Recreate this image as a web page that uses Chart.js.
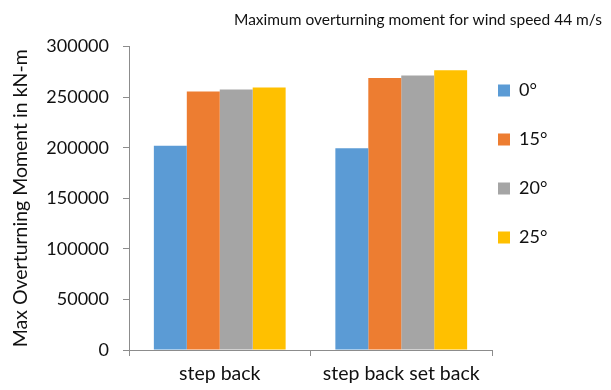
<!DOCTYPE html>
<html>
<head>
<meta charset="utf-8">
<script src="https://cdn.jsdelivr.net/npm/chart.js@4/dist/chart.umd.min.js"></script>
<style>
  html, body { margin: 0; padding: 0; background: #ffffff; }
  #wrap { width: 611px; height: 390px; }
</style>
</head>
<body>
<div id="wrap"><canvas id="c" width="611" height="390"></canvas></div>
<script>
// Building configurations on the x axis
const categories = ['step back', 'step back set back'];
// Wind angle series
const seriesNames = ['0°', '15°', '20°', '25°'];
const seriesColors = ['#5B9BD5', '#ED7D31', '#A5A5A5', '#FFC000'];
// Maximum overturning moment (kN-m) per configuration
const angle0 = [202000, 199500];
const angle15 = [255500, 269000];
const angle20 = [257500, 271500];
const angle25 = [259500, 276500];
// Value axis range
const yMin = 0;
const yMax = 300000;
const yStep = 50000;

const seriesValues = [angle0, angle15, angle20, angle25];
const FONT = 'Lato, "Open Sans", sans-serif';
const TEXT = '#111111';
const AXIS_GRAY = '#8c8c8c';

// Layout constants (canvas pixels)
const PAD = { left: 8, right: 9, top: 0, bottom: 0 };
const Y_AXIS_WIDTH = 121;     // from left padding to the value axis line
const X_AXIS_HEIGHT = 40;     // below the category axis line
const LEGEND_WIDTH = 110;     // reserved strip at the right
const LEGEND_BOX_GAP = 6;     // gap between plot edge and first legend swatch
const LEGEND_TOP_OFFSET = 4;  // legend block offset below plot top

const datasets = seriesNames.map((name, i) => ({
  label: name,
  data: seriesValues[i],
  backgroundColor: seriesColors[i],
  borderWidth: 0,
  barPercentage: 1.0,
  categoryPercentage: 0.726
}));

// Keeps the legend strip a fixed width and places the swatches close to the plot
const legendPlacement = {
  id: 'legendPlacement',
  beforeLayout(chart) {
    const lg = chart.legend;
    if (lg && !lg.__fixedWidth) {
      const baseFit = lg.fit;
      lg.fit = function () {
        baseFit.call(this);
        this.width = LEGEND_WIDTH;
      };
      lg.__fixedWidth = true;
    }
  },
  afterLayout(chart) {
    const lg = chart.legend;
    if (!lg) return;
    const pad = lg.options.labels.padding;
    const w = lg.width, h = lg.height;
    lg.left = chart.chartArea.right + LEGEND_BOX_GAP - pad;
    lg.right = lg.left + w;
    lg.top = chart.chartArea.top + LEGEND_TOP_OFFSET;
    lg.bottom = lg.top + h;
  }
};

new Chart(document.getElementById('c'), {
  type: 'bar',
  data: { labels: categories, datasets },
  plugins: [legendPlacement],
  options: {
    responsive: false,
    animation: false,
    devicePixelRatio: 1,
    layout: { padding: PAD },
    plugins: {
      title: {
        display: true,
        text: 'Maximum overturning moment for wind speed 44 m/s',
        align: 'end',
        color: TEXT,
        font: { family: FONT, size: 15.5, weight: 'normal' },
        padding: { top: 11, bottom: 17 }
      },
      legend: {
        position: 'right',
        align: 'start',
        labels: {
          color: TEXT,
          font: { family: FONT, size: 18 },
          boxWidth: 12,
          boxHeight: 12,
          padding: 31
        }
      },
      tooltip: { enabled: false }
    },
    scales: {
      x: {
        offset: true,
        afterFit(scale) { scale.height = X_AXIS_HEIGHT; },
        grid: { display: true, drawOnChartArea: false, offset: true, tickLength: 6, color: AXIS_GRAY },
        border: { display: true, color: AXIS_GRAY },
        ticks: { color: TEXT, font: { family: FONT, size: 19.5 }, padding: 6 }
      },
      y: {
        min: yMin,
        max: yMax,
        afterFit(scale) { scale.width = Y_AXIS_WIDTH; },
        grid: { display: true, drawOnChartArea: false, tickLength: 6, color: AXIS_GRAY },
        border: { display: true, color: AXIS_GRAY },
        ticks: {
          stepSize: yStep,
          color: TEXT,
          font: { family: FONT, size: 18 },
          padding: 14,
          callback: (v) => String(v)
        },
        title: {
          display: true,
          text: 'Max Overturning Moment in kN-m',
          color: TEXT,
          font: { family: FONT, size: 19.5 },
          padding: { top: 1, bottom: 0 }
        }
      }
    }
  }
});
</script>
</body>
</html>
